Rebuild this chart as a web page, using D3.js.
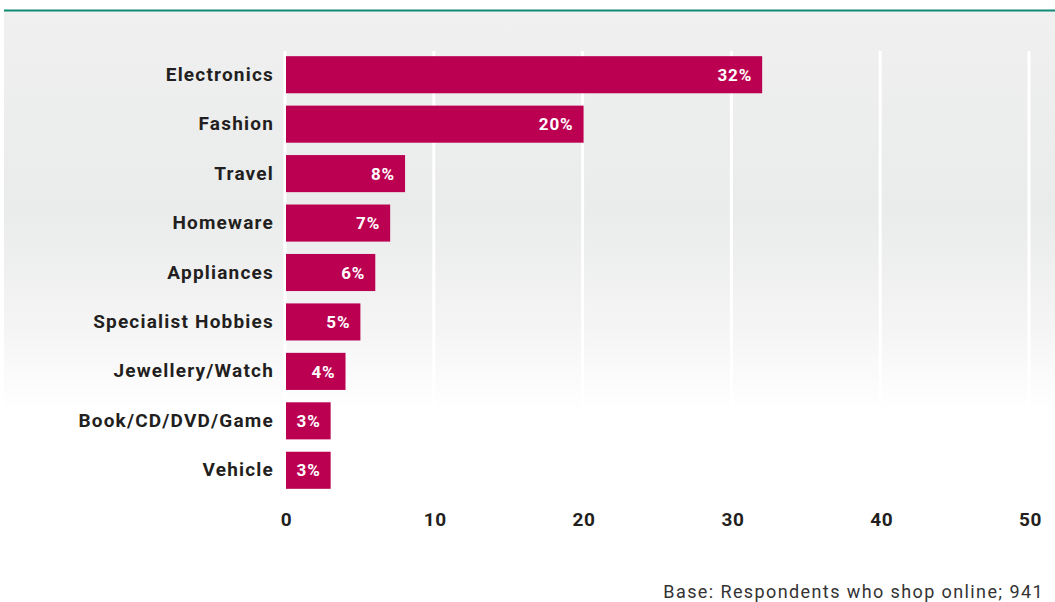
<!DOCTYPE html>
<html>
<head>
<meta charset="utf-8">
<script src="https://cdn.jsdelivr.net/npm/d3@7"></script>
<style>
  html, body { margin: 0; padding: 0; background: #fff; }
  svg { display: block; }
  text { font-family: "Roboto", "DejaVu Sans", sans-serif; }
</style>
</head>
<body>
<svg id="chart" width="1055" height="602"></svg>
<script>
// Online purchase categories and share of respondents (%)
const categories = ["Electronics", "Fashion", "Travel", "Homeware", "Appliances",
  "Specialist Hobbies", "Jewellery/Watch", "Book/CD/DVD/Game", "Vehicle"];
const values = [32, 20, 8, 7, 6, 5, 4, 3, 3];
const tickValues = [0, 10, 20, 30, 40, 50];
const footnote = "Base: Respondents who shop online; 941";

const svg = d3.select("#chart");
const W = 1055, H = 602;

// Background panel with top rule and vertical fade
const defs = svg.append("defs");
const grad = defs.append("linearGradient")
  .attr("id", "panelFade").attr("x1", 0).attr("y1", 0).attr("x2", 0).attr("y2", 1);
grad.append("stop").attr("offset", "0%").attr("stop-color", "#f0f0f0");
grad.append("stop").attr("offset", "50%").attr("stop-color", "#eaebeb");
grad.append("stop").attr("offset", "80%").attr("stop-color", "#f5f5f5");
grad.append("stop").attr("offset", "100%").attr("stop-color", "#ffffff");

svg.append("rect").attr("x", 4).attr("y", 11).attr("width", W - 4).attr("height", 400)
  .attr("fill", "url(#panelFade)");
svg.append("line").attr("x1", 4).attr("x2", W).attr("y1", 10.5).attr("y2", 10.5)
  .attr("stroke", "#0f8a74").attr("stroke-width", 2);

const x = d3.scaleLinear().domain([0, 50]).range([286, 1030]);
const y = d3.scaleBand().domain(categories).range([50, 495]).paddingInner(0.25).paddingOuter(0.125);

// Vertical gridlines
svg.append("g").selectAll("line").data(tickValues).join("line")
  .attr("x1", d => x(d) - 1).attr("x2", d => x(d) - 1)
  .attr("y1", 51).attr("y2", 495)
  .attr("stroke", "#ffffff").attr("stroke-width", 3);

// Bars
svg.append("g").selectAll("rect").data(values).join("rect")
  .attr("x", x(0))
  .attr("y", (d, i) => y(categories[i]))
  .attr("width", d => x(d) - x(0))
  .attr("height", y.bandwidth())
  .attr("fill", "#bc0051");

// Value labels inside bars
svg.append("g").selectAll("text").data(values).join("text")
  .attr("x", d => x(d) - 10)
  .attr("y", (d, i) => y(categories[i]) + y.bandwidth() / 2)
  .attr("dy", "0.36em")
  .attr("text-anchor", "end")
  .attr("fill", "#ffffff")
  .attr("font-size", 17).attr("font-weight", 700)
  .attr("letter-spacing", 0.9)
  .text(d => d + "%");

// Category axis
const yAxis = svg.append("g").attr("transform", "translate(274,0)")
  .call(d3.axisLeft(y).tickSize(0).tickPadding(0));
yAxis.select(".domain").remove();
yAxis.selectAll("text")
  .attr("font-family", "Roboto, sans-serif")
  .attr("font-size", 19).attr("font-weight", 700).attr("fill", "#231f20")
  .attr("letter-spacing", 1.2);

// Value axis
const xAxis = svg.append("g").attr("transform", "translate(0,0)")
  .call(d3.axisBottom(x).tickValues(tickValues).tickSize(0).tickPadding(0));
xAxis.select(".domain").remove();
xAxis.selectAll("text")
  .attr("font-family", "Roboto, sans-serif")
  .attr("font-size", 19).attr("font-weight", 700).attr("fill", "#231f20")
  .attr("letter-spacing", 0.6)
  .attr("y", 526).attr("dy", 0);

// Footnote
svg.append("text").attr("x", 1044).attr("y", 598)
  .attr("text-anchor", "end").attr("fill", "#333")
  .attr("font-size", 18).attr("font-weight", 400)
  .attr("letter-spacing", 1.4)
  .text(footnote);
</script>
</body>
</html>
